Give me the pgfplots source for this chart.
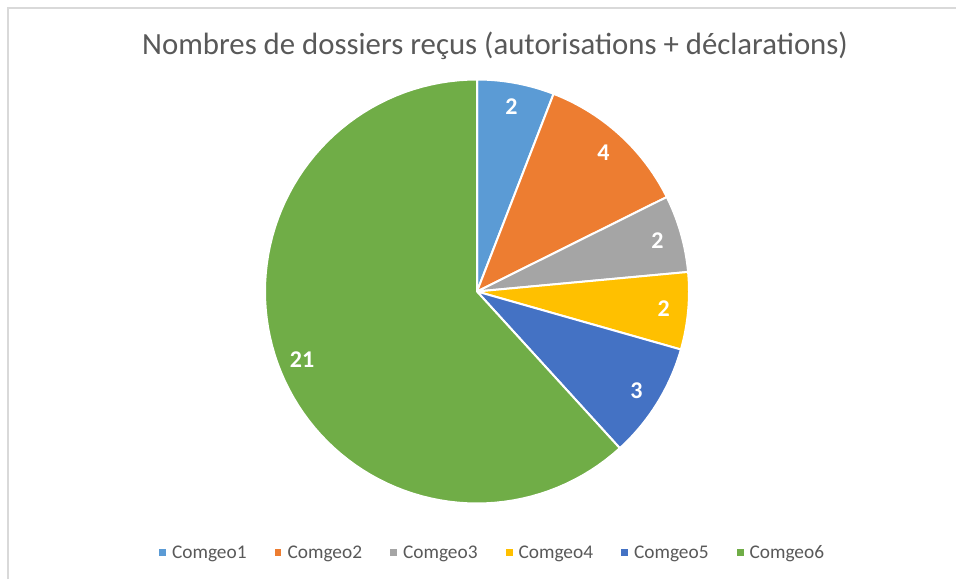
\documentclass[border=0pt]{standalone}
\usepackage{pgfplots}
\pgfplotsset{compat=1.18}
\usepackage{pgfplotstable}
\usepackage{fontspec}
\setmainfont{Carlito}

\definecolor{pie0}{HTML}{5B9BD5}
\definecolor{pie1}{HTML}{ED7D31}
\definecolor{pie2}{HTML}{A5A5A5}
\definecolor{pie3}{HTML}{FFC000}
\definecolor{pie4}{HTML}{4472C4}
\definecolor{pie5}{HTML}{70AD47}
\definecolor{titlegray}{HTML}{595959}
\definecolor{framegray}{HTML}{D9D9D9}

\pgfplotstableread{
name value
Comgeo1 2
Comgeo2 4
Comgeo3 2
Comgeo4 2
Comgeo5 3
Comgeo6 21
}\piedata

\begin{document}
\begin{tikzpicture}[x=0.75pt,y=0.75pt]
% page frame (956 x 579 px)
\fill[white] (0,0) rectangle (956,579);
\path[use as bounding box] (0,0) rectangle (956,579);
\draw[framegray, line width=1.2pt] (8,0) -- (8,571) -- (956,571);

% cumulative angles from the table
\gdef\pieTotal{0}
\foreach \i in {0,...,5}{%
  \pgfplotstablegetelem{\i}{value}\of\piedata
  \pgfmathsetmacro\pieT{\pieTotal+\pgfplotsretval}%
  \xdef\pieTotal{\pieT}%
}
\gdef\pieCum{0}
\foreach \i in {0,...,5}{%
  \pgfplotstablegetelem{\i}{value}\of\piedata
  \let\pieV\pgfplotsretval
  \pgfmathsetmacro\pieS{90-360*\pieCum/\pieTotal}%
  \pgfmathsetmacro\pieC{\pieCum+\pieV}%
  \pgfmathsetmacro\pieE{90-360*\pieC/\pieTotal}%
  \pgfmathsetmacro\pieM{(\pieS+\pieE)/2}%
  \expandafter\xdef\csname ps\i\endcsname{\pieS}%
  \expandafter\xdef\csname pe\i\endcsname{\pieE}%
  \expandafter\xdef\csname pm\i\endcsname{\pieM}%
  \expandafter\xdef\csname pv\i\endcsname{\pieV}%
  \pgfplotstablegetelem{\i}{name}\of\piedata
  \expandafter\xdef\csname pn\i\endcsname{\pgfplotsretval}%
  \xdef\pieCum{\pieC}%
}

\node[anchor=base, text=titlegray, font=\fontsize{23.1}{28}\selectfont] at (495,524)
  {Nombres de dossiers reçus (autorisations + déclarations)};

\begin{axis}[
  at={(357.75pt,215.625pt)}, anchor=center,
  scale only axis, width=318pt, height=318pt,
  xmin=-1, xmax=1, ymin=-1, ymax=1,
  hide axis, clip=false,
  legend columns=6,
  legend style={at={(axis cs:0.075,-1.233)}, anchor=center, draw=none, fill=none,
    font=\fontsize{14.5}{17}\selectfont, text=titlegray,
    /tikz/every even column/.append style={column sep=19pt}},
  legend image code/.code={\fill[#1, draw=none] (0pt,-2.6pt) rectangle (5.2pt,2.6pt);
    \path (7pt,0pt);},
]
\pgfplotsinvokeforeach{0,...,5}{
  \addplot[fill=pie#1, draw=white, line width=1.5pt,
    domain=\csname pe#1\endcsname:\csname ps#1\endcsname, samples=90]
    ({cos(x)},{sin(x)}) -- (0,0) -- cycle;
  \addlegendentry{\csname pn#1\endcsname}
  \node[text=white, font=\bfseries\fontsize{18}{21}\selectfont]
    at (axis cs:{0.885*cos(\csname pm#1\endcsname)},{0.885*sin(\csname pm#1\endcsname)})
    {\csname pv#1\endcsname};
}
\end{axis}
\end{tikzpicture}
\end{document}
